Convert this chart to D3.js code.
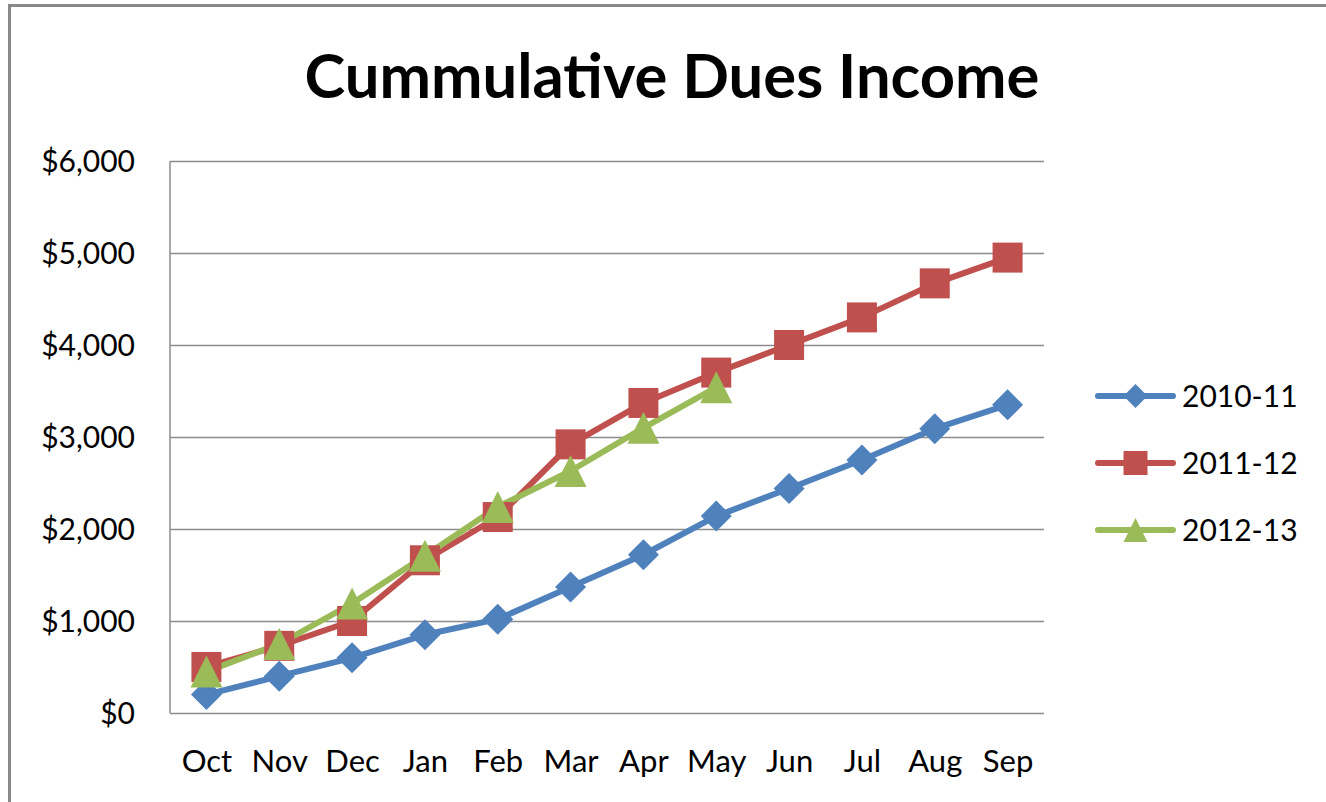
<!DOCTYPE html>
<html>
<head>
<meta charset="utf-8">
<script src="https://cdn.jsdelivr.net/npm/d3@7"></script>
<style>
  html, body { margin: 0; background: #fff; overflow: hidden; }
  svg { display: block; }
  text { font-family: Lato, "Open Sans", sans-serif; fill: #000; }
</style>
</head>
<body>
<div id="chart"></div>
<script>
// Chart data
const months = ['Oct', 'Nov', 'Dec', 'Jan', 'Feb', 'Mar', 'Apr', 'May', 'Jun', 'Jul', 'Aug', 'Sep'];
const seriesNames = ['2010-11', '2011-12', '2012-13'];
const dues201011 = [200, 400, 600, 850, 1020, 1370, 1720, 2140, 2440, 2750, 3090, 3350];
const dues201112 = [500, 730, 1000, 1660, 2130, 2920, 3370, 3700, 4000, 4300, 4670, 4950];
const dues201213 = [450, 750, 1190, 1710, 2240, 2630, 3100, 3540];
const yTicks = [0, 1000, 2000, 3000, 4000, 5000, 6000];

const width = 1326, height = 802;
const margin = { top: 161, right: 282, bottom: 89, left: 170 };
const colors = ['#4F81BD', '#C0504D', '#9BBB59'];
const shapes = ['diamond', 'square', 'triangle'];

const series = seriesNames.map((name, i) => ({
  name: name,
  color: colors[i],
  shape: shapes[i],
  values: [dues201011, dues201112, dues201213][i].map((v, j) => ({ month: months[j], value: v }))
}));

// Marker path for a given shape, s = overall size in px
function markerPath(shape, s) {
  const h = s / 2;
  const p = d3.path();
  if (shape === 'diamond') {
    p.moveTo(0, -h); p.lineTo(h, 0); p.lineTo(0, h); p.lineTo(-h, 0);
  } else if (shape === 'square') {
    p.rect(-h, -h, s, s);
  } else {
    p.moveTo(0, -h); p.lineTo(h, h); p.lineTo(-h, h);
  }
  p.closePath();
  return p.toString();
}

const svg = d3.select('#chart').append('svg')
  .attr('width', width)
  .attr('height', height);

// outer chart border: only the top and left edges are inside the crop
svg.append('path')
  .attr('d', `M9.5,${height}V5.5H${width}`)
  .attr('fill', 'none')
  .attr('stroke', '#888')
  .attr('stroke-width', 3);

const innerW = width - margin.left - margin.right;
const innerH = height - margin.top - margin.bottom;

const x = d3.scalePoint()
  .domain(months)
  .range([0, innerW])
  .padding(0.5);

const y = d3.scaleLinear()
  .domain([0, 6000])
  .range([innerH, 0]);

const g = svg.append('g')
  .attr('transform', `translate(${margin.left},${margin.top})`);

// Y axis with gridlines
const yAxis = d3.axisLeft(y)
  .tickValues(yTicks)
  .tickSize(-innerW)
  .tickPadding(35)
  .tickFormat(d => '$' + d3.format(',')(d));

const yAxisG = g.append('g').call(yAxis);
yAxisG.select('.domain').remove();
yAxisG.selectAll('.tick line')
  .attr('stroke', '#8c8c8c')
  .attr('stroke-width', 1.5);
yAxisG.selectAll('.tick text')
  .attr('font-size', 30)
  .attr('dy', '0.36em')
  .style('font-family', 'Lato, sans-serif')
  .attr('fill', '#000');

// left axis line
g.append('line')
  .attr('x1', 0).attr('x2', 0)
  .attr('y1', 0).attr('y2', innerH)
  .attr('stroke', '#8c8c8c')
  .attr('stroke-width', 1.5);

// X axis labels
const xAxis = d3.axisBottom(x).tickSize(0).tickPadding(0);
const xAxisG = g.append('g')
  .attr('transform', `translate(0,${innerH})`)
  .call(xAxis);
xAxisG.select('.domain').remove();
xAxisG.selectAll('.tick text')
  .attr('y', 59)
  .attr('dy', 0)
  .attr('font-size', 31)
  .style('font-family', 'Lato, sans-serif')
  .attr('fill', '#000');

// Lines
const line = d3.line()
  .x(d => x(d.month))
  .y(d => y(d.value));

g.selectAll('.series-line')
  .data(series)
  .join('path')
  .attr('class', 'series-line')
  .attr('d', d => line(d.values))
  .attr('fill', 'none')
  .attr('stroke', d => d.color)
  .attr('stroke-width', 6)
  .attr('stroke-linejoin', 'round')
  .attr('stroke-linecap', 'round');

// Markers
const markerSize = { diamond: 31, square: 30, triangle: 32 };
series.forEach(s => {
  g.selectAll('.mk-' + s.shape)
    .data(s.values)
    .join('path')
    .attr('class', 'mk-' + s.shape)
    .attr('transform', d => `translate(${x(d.month)},${y(d.value)})`)
    .attr('d', markerPath(s.shape, markerSize[s.shape]))
    .attr('fill', s.color);
});

// Title, fitted to the reference width
const title = svg.append('text')
  .attr('x', 672)
  .attr('y', 98)
  .attr('text-anchor', 'middle')
  .attr('font-weight', 700)
  .attr('font-size', 60)
  .text('Cummulative Dues Income');
const tw = title.node().getComputedTextLength();
title.attr('font-size', 60 * 735 / tw);

// Legend
const legend = svg.append('g')
  .attr('transform', 'translate(1098,396)');
const legendRow = legend.selectAll('.legend-row')
  .data(series)
  .join('g')
  .attr('class', 'legend-row')
  .attr('transform', (d, i) => `translate(0,${i * 67})`);
legendRow.append('line')
  .attr('x1', 0).attr('x2', 75)
  .attr('stroke', d => d.color)
  .attr('stroke-width', 6)
  .attr('stroke-linecap', 'round');
legendRow.append('path')
  .attr('transform', 'translate(37.5,0)')
  .attr('d', d => markerPath(d.shape, 24))
  .attr('fill', d => d.color);
legendRow.append('text')
  .attr('x', 84)
  .attr('dy', '0.36em')
  .attr('font-size', 30)
  .text(d => d.name);
</script>
</body>
</html>
